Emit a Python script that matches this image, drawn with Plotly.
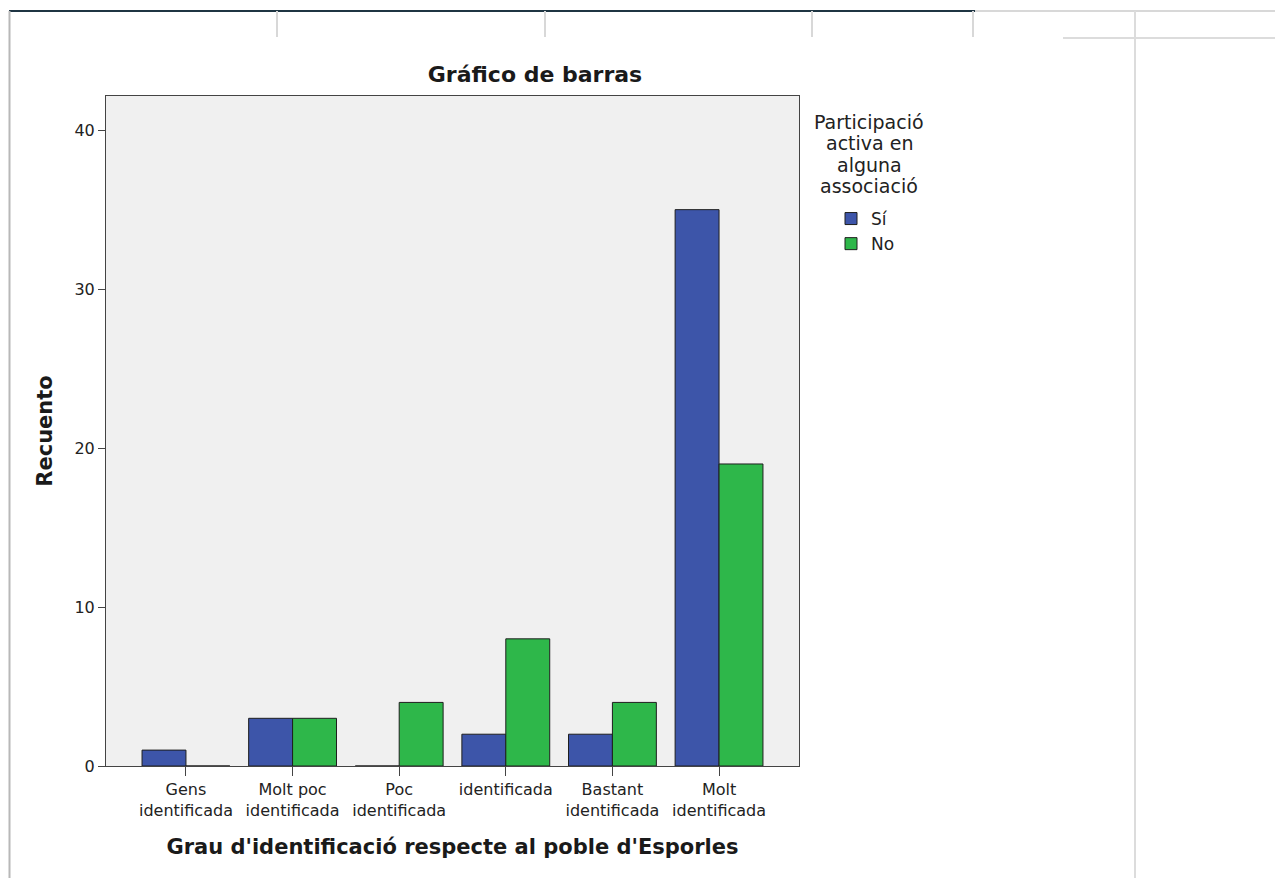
import plotly.graph_objects as go

# ---- data ----
categories = ["Gens<br>identificada", "Molt poc<br>identificada", "Poc<br>identificada",
              "identificada", "Bastant<br>identificada", "Molt<br>identificada"]
si_values = [1, 3, 0, 2, 2, 35]
no_values = [0, 3, 4, 8, 4, 19]
series_names = ["Sí", "No"]
legend_title_lines = ["Participació", "activa en", "alguna", "associació"]
y_ticks = [0, 10, 20, 30, 40]

# ---- layout geometry (screen pixels; page body has an 8px margin) ----
OFF = 8
W, H = 1283 - OFF, 878 - OFF
SL, SR, ST, SB = 106, 799, 96, 766          # plot area on screen
L, R, T, B = SL - OFF, SR - OFF, ST - OFF, SB - OFF
FONT = "DejaVu Sans"

def px_x(p):
    return (p - OFF - L) / (R - L)

def px_y(p):
    return (B - (p - OFF)) / (B - T)

fig = go.Figure()
fig.add_trace(go.Bar(x=categories, y=si_values, name=series_names[0],
                     marker=dict(color="#3d55a9", line=dict(color="#1e1e1e", width=1))))
fig.add_trace(go.Bar(x=categories, y=no_values, name=series_names[1],
                     marker=dict(color="#2eb74a", line=dict(color="#1e1e1e", width=1))))

# window chrome lines from the viewer screenshot
chrome = []
def line(x0, y0, x1, y1, color, width):
    chrome.append(dict(type="line", xref="paper", yref="paper",
                       x0=px_x(x0), y0=px_y(y0), x1=px_x(x1), y1=px_y(y1),
                       line=dict(color=color, width=width), layer="above"))

line(9, 11, 975, 11, "#1f3543", 2)
line(975, 11, 1283, 11, "#d8d8d8", 2)
for vx in (277, 545, 812, 973):
    line(vx, 11, vx, 37, "#d8d8d8", 2)
line(1135, 11, 1135, 878, "#dcdcdc", 2)
line(1063, 38, 1283, 38, "#dcdcdc", 2)
line(9.5, 11, 9.5, 878, "#b8b8b8", 2)

# legend title, one centred line each (SPSS line spacing)
annotations = []
for i, txt in enumerate(legend_title_lines):
    annotations.append(dict(text=txt, xref="paper", yref="paper",
                            x=px_x(869), y=px_y(122 + 21.3 * i),
                            xanchor="center", yanchor="middle", showarrow=False,
                            font=dict(family=FONT, size=19, color="#222222")))

fig.update_layout(
    width=W, height=H, autosize=False,
    margin=dict(l=L, r=W - R, t=T, b=H - B),
    paper_bgcolor="white", plot_bgcolor="#f0f0f0",
    barmode="group", bargap=0.176, bargroupgap=0,
    font=dict(family=FONT, size=16, color="#222222"),
    title=dict(text="Gráfico de barras", x=(535 - OFF) / W, xref="container", xanchor="center",
               y=1 - (74.5 - OFF) / H, yref="container", yanchor="middle",
               font=dict(family=FONT, size=22, color="#1a1a1a", weight="bold")),
    xaxis=dict(type="category", range=[-0.75, 5.75], showgrid=False,
               showline=True, linecolor="#444444", linewidth=1, mirror=True,
               ticks="outside", ticklen=9, tickcolor="#444444", tickwidth=1,
               tickfont=dict(family=FONT, size=16, color="#222222"),
               title=dict(text="Grau d'identificació respecte al poble d'Esporles",
                          font=dict(family=FONT, size=21, color="#1a1a1a", weight="bold"),
                          standoff=20)),
    yaxis=dict(range=[0, 42.15], tickvals=y_ticks, showgrid=False, zeroline=False,
               showline=True, linecolor="#444444", linewidth=1, mirror=True,
               ticks="outside", ticklen=7, tickcolor="#444444", tickwidth=1,
               tickfont=dict(family=FONT, size=16, color="#222222"),
               title=dict(text="Recuento",
                          font=dict(family=FONT, size=21, color="#1a1a1a", weight="bold"),
                          standoff=16)),
    legend=dict(x=px_x(831), xanchor="left", y=px_y(201), yanchor="top",
                font=dict(family=FONT, size=17, color="#222222"),
                itemwidth=30, tracegroupgap=0,
                bgcolor="rgba(0,0,0,0)"),
    shapes=chrome,
    annotations=annotations,
)

fig.write_html("out.html")
